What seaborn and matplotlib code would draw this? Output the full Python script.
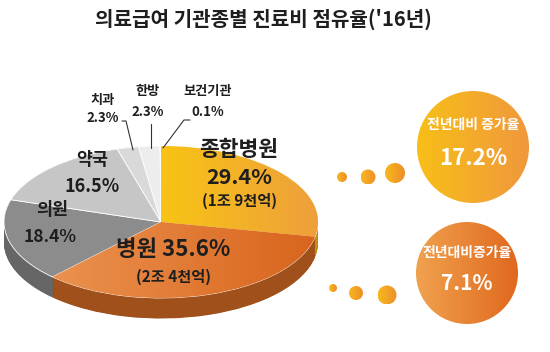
"""Share of Medical Aid expenditure by institution type ('16), 3D-style pie."""
import numpy as np
import matplotlib
matplotlib.use("Agg")
import matplotlib.pyplot as plt
import seaborn as sns
from matplotlib.patches import Circle
from matplotlib.colors import LinearSegmentedColormap

# data
title = "의료급여 기관종별 진료비 점유율('16년)"
sectors = ["종합병원", "병원", "의원", "약국", "치과", "한방", "보건기관"]
shares = [29.4, 35.6, 18.4, 16.5, 2.3, 2.3, 0.1]
amounts = ["1조 9천억", "2조 4천억", "", "", "", "", ""]
growth_labels = ["전년대비 증가율", "전년대비증가율"]
growth_values = [17.2, 7.1]

top_colors = ["#F6B726", "#E57D32", "#8C8C8C", "#C6C6C6", "#D9D9D9", "#EDEDED", "#F7F7F7"]
side_colors = ["#C98A12", "#A0501A", "#666666", "#9A9A9A", "#AAAAAA", "#BBBBBB", "#C8C8C8"]

sns.set_theme(style="white")
plt.rcParams['font.family'] = ['Noto Sans CJK KR', 'DejaVu Sans']

W, H = 550, 352
fig = plt.figure(figsize=(W / 100, H / 100), dpi=100)
fig.patch.set_facecolor("white")


def gradient(ax, patch, c1, c2, extent, zorder):
    """Fill patch with a left-to-right colour gradient."""
    cmap = LinearSegmentedColormap.from_list("g", [c1, c2])
    img = ax.imshow(np.linspace(0, 1, 256).reshape(1, -1), cmap=cmap, aspect="auto",
                    extent=extent, zorder=zorder, interpolation="bilinear")
    img.set_clip_path(patch)


# pie axes: top face ellipse spans px x 4..318, y 146..298
rx_px, ry_px = 157, 76
cx_px, cy_px = 161, 222
ylo, yhi = -1.35, 1.05
ax = fig.add_axes([(cx_px - rx_px) / W, (H - (cy_px - ylo * ry_px)) / H,
                   2 * rx_px / W, (yhi - ylo) * ry_px / H])
depth = 0.27
for k in np.linspace(depth, 0.0, 40):
    side, _ = ax.pie(shares, colors=side_colors, startangle=90, counterclock=False,
                     center=(0, -k), radius=1, wedgeprops=dict(linewidth=0))
gradient(ax, side[1], "#C4682A", "#7A380C", (-1, 1, -1 - depth, 1), 1.5)
wedges, _ = ax.pie(shares, colors=top_colors, startangle=90, counterclock=False,
                   wedgeprops=dict(linewidth=0.6, edgecolor="#FFFFFF"))
for w in wedges:
    w.set_zorder(2)
gradient(ax, wedges[0], "#F8C414", "#EE9F3C", (0, 1, -1, 1), 2.1)
gradient(ax, wedges[1], "#EE9A58", "#D8641C", (-1, 1, -1, 1), 2.1)
ax.set_aspect("auto")
ax.set_xlim(-1, 1)
ax.set_ylim(ylo, yhi)
ax.axis("off")

# overlay in pixel coordinates
ov = fig.add_axes([0, 0, 1, 1], zorder=5)
ov.set_xlim(0, W)
ov.set_ylim(H, 0)
ov.axis("off")
ov.patch.set_alpha(0)

dark = "#1E1E1E"
ov.text(263, 19, title, ha="center", va="center", fontsize=14.5, fontweight="bold", color=dark)

# 종합병원
ov.text(239, 150, sectors[0], ha="center", va="center", fontsize=15.5, fontweight="bold", color=dark)
ov.text(239, 177, f"{shares[0]}%", ha="center", va="center", fontsize=15.5, fontweight="bold", color=dark)
ov.text(239, 201, f"({amounts[0]})", ha="center", va="center", fontsize=11, fontweight="bold", color=dark)
# 병원
ov.text(173, 250, f"{sectors[1]} {shares[1]}%", ha="center", va="center", fontsize=16, fontweight="bold", color=dark)
ov.text(173, 277, f"({amounts[1]})", ha="center", va="center", fontsize=11, fontweight="bold", color=dark)
# 의원, 약국
ov.text(52, 210, sectors[2], ha="center", va="center", fontsize=12.5, fontweight="bold", color=dark)
ov.text(50, 237, f"{shares[2]}%", ha="center", va="center", fontsize=12.5, fontweight="bold", color=dark)
ov.text(92, 160, sectors[3], ha="center", va="center", fontsize=12.5, fontweight="bold", color=dark)
ov.text(92, 187, f"{shares[3]}%", ha="center", va="center", fontsize=13, fontweight="bold", color=dark)
# small slices with leader lines
small_pos = [(103, 100, 118), (148, 91, 112), (208, 91, 112)]
for i, (x, y1, y2) in zip(range(4, 7), small_pos):
    ov.text(x, y1, sectors[i], ha="center", va="center", fontsize=9.5, fontweight="bold", color=dark)
    ov.text(x, y2, f"{shares[i]}%", ha="center", va="center", fontsize=9.5, fontweight="bold", color=dark)
ov.plot([122, 126, 133], [121, 121, 150], color="#333333", lw=0.8)
ov.plot([151, 151], [124, 148], color="#333333", lw=0.8)
ov.plot([190, 184, 163], [120, 120, 148], color="#333333", lw=0.8)

# growth bubbles
bubbles = [((473, 147), 56, "#F7BF18", "#F0983C", [(342, 177, 5), (368, 177, 7.5), (395, 173, 10)]),
           ((467, 273), 51, "#F0A24E", "#E0681E", [(333, 288, 4), (356, 293, 7), (387, 295, 9.5)])]
for (c, r, c1, c2, dots), lab, val in zip(bubbles, growth_labels, growth_values):
    circ = Circle(c, r, facecolor="none", edgecolor="none")
    ov.add_patch(circ)
    gradient(ov, circ, c1, c2, (c[0] - r, c[0] + r, c[1] + r, c[1] - r), 3)
    for dx, dy, dr in dots:
        dot = Circle((dx, dy), dr, facecolor="none", edgecolor="none")
        ov.add_patch(dot)
        gradient(ov, dot, "#F7B81E", "#EE8E2A", (dx - dr, dx + dr, dy + dr, dy - dr), 3)
    ov.text(c[0], c[1] - r * 0.4, lab, ha="center", va="center", fontsize=10, fontweight="bold", color="white", zorder=4)
    ov.text(c[0], c[1] + r * 0.2, f"{val}%", ha="center", va="center",
            fontsize=16 if val > 10 else 15, fontweight="bold", color="white", zorder=4)
ov.set_xlim(0, W)
ov.set_ylim(H, 0)

fig.savefig("out.png", dpi=100)
